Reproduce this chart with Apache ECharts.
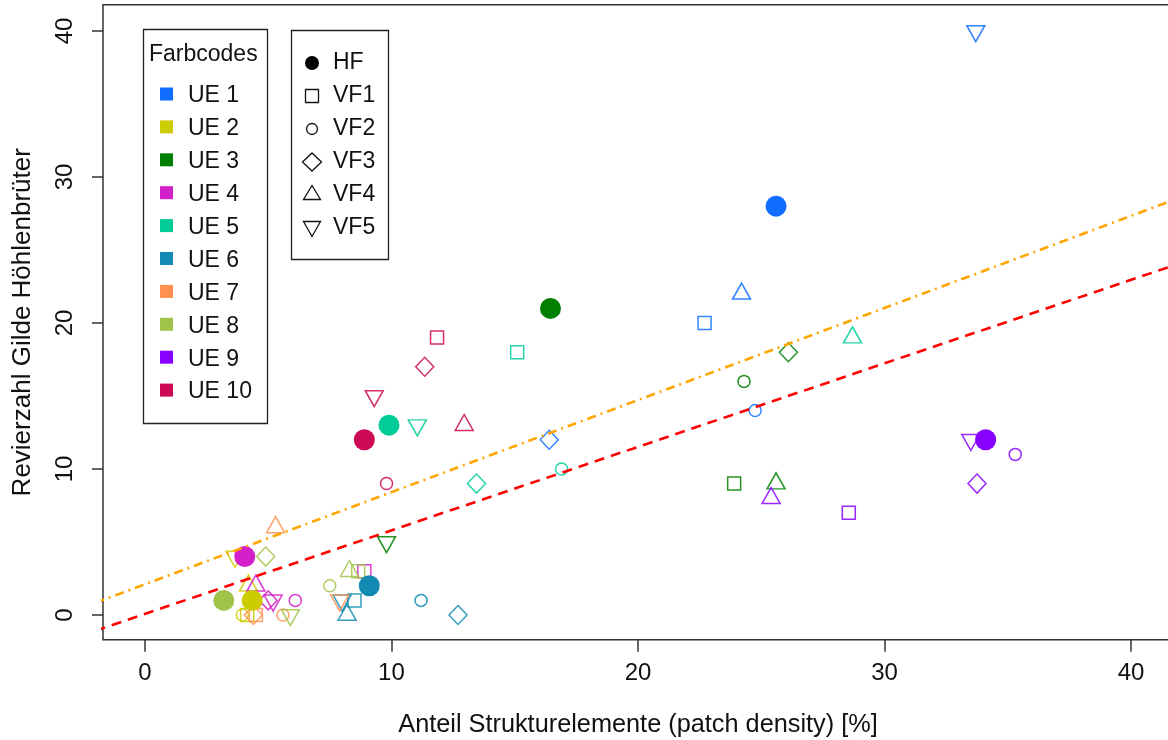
<!DOCTYPE html>
<html>
<head>
<meta charset="utf-8">
<script src="https://cdn.jsdelivr.net/npm/echarts@6/dist/echarts.min.js"></script>
<style>
  html, body { margin: 0; padding: 0; background: #fff; }
  #chart { width: 1168px; height: 740px; }
</style>
</head>
<body>
<div id="chart"></div>
<script>
// Survey units (colour codes) and survey plot types (marker shapes)
const ueLabels = ['UE 1', 'UE 2', 'UE 3', 'UE 4', 'UE 5', 'UE 6', 'UE 7', 'UE 8', 'UE 9', 'UE 10'];
const plotLabels = ['HF', 'VF1', 'VF2', 'VF3', 'VF4', 'VF5'];

// Patch density [%] (x) and territory count (y) per plot type, ordered UE 1 .. UE 10
const hfX  = [25.6, 4.35, 16.45, 4.05, 9.9, 9.1, null, 3.2, 34.1, 8.9];
const hfY  = [28, 1, 21, 4, 13, 2, null, 1, 12, 12];
const vf1X = [22.7, 4.15, 23.9, 8.9, 15.1, 8.5, 4.5, 8.65, 28.55, 11.85];
const vf1Y = [20, 0, 9, 3, 18, 1, 0, 3, 7, 19];
const vf2X = [24.75, 3.95, 24.3, 6.1, 16.9, 11.2, 5.6, 7.5, 35.3, 9.8];
const vf2Y = [14, 0, 16, 1, 10, 1, 0, 2, 11, 9];
const vf3X = [16.4, null, 26.1, 5.0, 13.45, 12.7, 4.4, 4.9, 33.75, 11.35];
const vf3Y = [12, null, 18, 1, 9, 0, 0, 4, 9, 17];
const vf4X = [24.2, 4.2, 25.6, 4.5, 28.7, 8.2, 5.3, 8.3, 25.4, 12.95];
const vf4Y = [22, 2, 9, 2, 19, 0, 6, 3, 8, 13];
const vf5X = [33.7, 3.65, 9.8, 5.2, 11.05, 8.0, 7.9, 5.9, 33.5, 9.3];
const vf5Y = [40, 4, 5, 1, 13, 1, 1, 0, 12, 15];

// Fitted trend lines, given by their end points
const redFit = [[-2, -1.07], [42, 24.1]];
const orangeFit = [[-2, 0.84], [42, 28.6]];

// Axis ticks
const xTicks = [0, 10, 20, 30, 40];
const yTicks = [0, 10, 20, 30, 40];

// ---- styling ----
const ueColors = ['#0F6EFF', '#CCCC00', '#007F00', '#D21FC8', '#00CC99',
                  '#128AB4', '#FF9050', '#A2C34A', '#8800FF', '#CC0A55'];
const FONT = '"Liberation Sans", Arial, sans-serif';
const INV_TRI = 'path://M0,0L2,0L1,1.7Z';

const markerStyle = {
  HF:  { symbol: 'circle', size: 21, filled: true },
  VF1: { symbol: 'rect', size: 13 },
  VF2: { symbol: 'circle', size: 12 },
  VF3: { symbol: 'diamond', size: [18, 19] },
  VF4: { symbol: 'triangle', size: [18, 16], offset: [0, -2.7] },
  VF5: { symbol: INV_TRI, size: [18, 16], offset: [0, 2.7] }
};

function pointSeries(name, xs, ys, z) {
  const m = markerStyle[name];
  const data = [];
  xs.forEach((x, i) => {
    if (x == null) return;
    data.push({
      value: [x, ys[i]],
      itemStyle: m.filled
        ? { color: ueColors[i], borderWidth: 0, opacity: 1 }
        : { color: 'rgba(0,0,0,0)', borderColor: ueColors[i], borderWidth: 1.5, opacity: 0.85 }
    });
  });
  return {
    name, type: 'scatter', data, z,
    symbol: m.symbol, symbolSize: m.size, symbolOffset: m.offset || [0, 0],
    emphasis: { disabled: true }, silent: true, animation: false
  };
}

function fitSeries(points, color, dash, width) {
  return {
    type: 'line', data: points, z: 5, symbol: 'none', silent: true, animation: false,
    lineStyle: { color, type: dash, width, cap: 'butt' }
  };
}

// ---- legend boxes ----
const LEGEND_FONT = '23px ' + FONT;
const graphics = [];
const ueBox = { x: 143.5, y: 29.5, w: 124, h: 394 };
graphics.push({ type: 'rect', shape: { x: ueBox.x, y: ueBox.y, width: ueBox.w, height: ueBox.h },
  style: { fill: '#fff', stroke: '#222', lineWidth: 1.3 }, z: 10 });
graphics.push({ type: 'text', x: 149, y: 55, z: 11,
  style: { text: 'Farbcodes', font: LEGEND_FONT, fill: '#111', verticalAlign: 'middle' } });
ueLabels.forEach((lab, i) => {
  const cy = 96 + i * 32.9;
  graphics.push({ type: 'rect', z: 11, shape: { x: 160, y: cy - 8.5, width: 13, height: 13 },
    style: { fill: ueColors[i] } });
  graphics.push({ type: 'text', x: 188, y: cy, z: 11,
    style: { text: lab, font: LEGEND_FONT, fill: '#111', verticalAlign: 'middle' } });
});

const plotBox = { x: 291.5, y: 30.5, w: 97, h: 229 };
graphics.push({ type: 'rect', shape: { x: plotBox.x, y: plotBox.y, width: plotBox.w, height: plotBox.h },
  style: { fill: '#fff', stroke: '#222', lineWidth: 1.3 }, z: 10 });
const sx = 312;
const stroke = { fill: 'none', stroke: '#111', lineWidth: 1.3 };
plotLabels.forEach((lab, i) => {
  const cy = 63 + i * 33;
  let g;
  if (lab === 'HF') g = { type: 'circle', shape: { cx: sx, cy, r: 7 }, style: { fill: '#000' } };
  else if (lab === 'VF1') g = { type: 'rect', shape: { x: sx - 6.5, y: cy - 6.5, width: 13, height: 13 }, style: stroke };
  else if (lab === 'VF2') g = { type: 'circle', shape: { cx: sx, cy, r: 5.5 }, style: stroke };
  else if (lab === 'VF3') g = { type: 'polygon', shape: { points: [[sx - 9.5, cy], [sx, cy - 9], [sx + 9.5, cy], [sx, cy + 9]] }, style: stroke };
  else if (lab === 'VF4') g = { type: 'polygon', shape: { points: [[sx, cy - 9.5], [sx + 8.5, cy + 4.5], [sx - 8.5, cy + 4.5]] }, style: stroke };
  else g = { type: 'polygon', shape: { points: [[sx - 8.5, cy - 6.5], [sx + 8.5, cy - 6.5], [sx, cy + 8.5]] }, style: stroke };
  g.z = 11;
  graphics.push(g);
  graphics.push({ type: 'text', x: 333, y: cy, z: 11,
    style: { text: lab, font: LEGEND_FONT, fill: '#111', verticalAlign: 'middle' } });
});

const chart = echarts.init(document.getElementById('chart'), null, { renderer: 'canvas' });
chart.setOption({
  backgroundColor: '#fff',
  animation: false,
  grid: {
    left: 103, right: -5, top: 4.7, bottom: 100.2,
    outerBoundsMode: 'none', containLabel: false,
    show: true, borderColor: '#333', borderWidth: 1.5, backgroundColor: 'transparent'
  },
  xAxis: {
    type: 'value', min: -1.7, max: 41.7,
    axisLine: { show: false, onZero: false }, splitLine: { show: false },
    axisTick: { show: true, length: 12, customValues: xTicks, lineStyle: { color: '#333', width: 1.5 } },
    axisLabel: { customValues: xTicks, fontSize: 24, fontFamily: FONT, color: '#111', margin: 22 },
    name: 'Anteil Strukturelemente (patch density) [%]', nameLocation: 'middle', nameGap: 73,
    nameTextStyle: { fontSize: 25.3, fontFamily: FONT, color: '#111' }
  },
  yAxis: {
    type: 'value', min: -1.7, max: 41.8,
    axisLine: { show: false, onZero: false }, splitLine: { show: false },
    axisTick: { show: true, length: 11, customValues: yTicks, lineStyle: { color: '#333', width: 1.5 } },
    axisLabel: { customValues: yTicks, rotate: 90, fontSize: 24, fontFamily: FONT, color: '#111', margin: 26 },
    name: 'Revierzahl Gilde Höhlenbrüter', nameLocation: 'middle', nameGap: 67, nameRotate: 90,
    nameTextStyle: { fontSize: 26, fontFamily: FONT, color: '#111' }
  },
  series: [
    pointSeries('VF1', vf1X, vf1Y, 2),
    pointSeries('VF2', vf2X, vf2Y, 2),
    pointSeries('VF3', vf3X, vf3Y, 2),
    pointSeries('VF4', vf4X, vf4Y, 2),
    pointSeries('VF5', vf5X, vf5Y, 2),
    pointSeries('HF', hfX, hfY, 3),
    fitSeries(redFit, '#FF0000', [10, 7], 2.6),
    fitSeries(orangeFit, '#FFA500', [9, 5, 2, 5], 2.6)
  ],
  graphic: graphics
});
</script>
</body>
</html>
